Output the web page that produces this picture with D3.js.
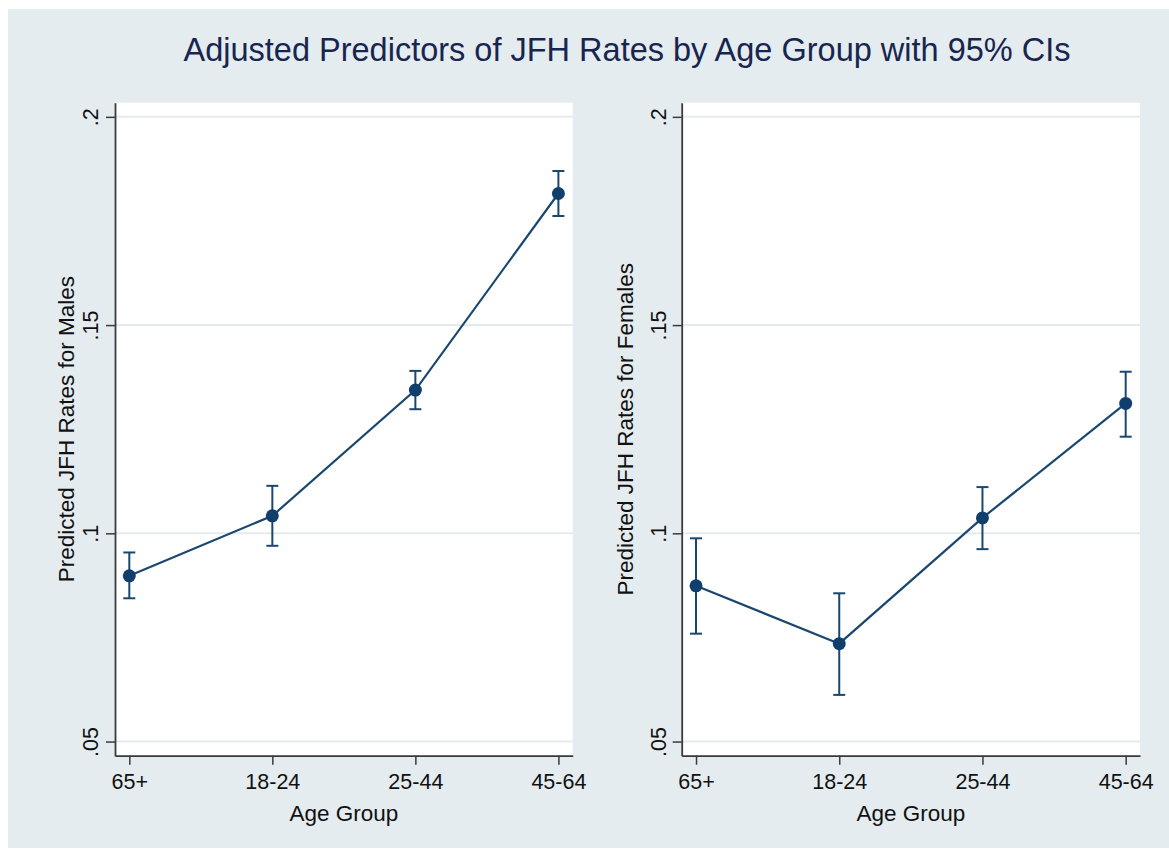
<!DOCTYPE html>
<html>
<head>
<meta charset="utf-8">
<script src="https://cdn.jsdelivr.net/npm/d3@7"></script>
<style>
    body { margin: 0; background: #ffffff; overflow: hidden; }
    svg { display: block; }
    text { font-family: "Liberation Sans", Arial, sans-serif; }
</style>
</head>
<body>
<div id="chart"></div>
<script>
// Age groups and predicted JFH rates (with 95% CI bounds)
var categories = ["65+", "18-24", "25-44", "45-64"];

var maleRate = [0.0898, 0.1042, 0.1344, 0.1816];
var maleLow = [0.0844, 0.0970, 0.1298, 0.1762];
var maleHigh = [0.0954, 0.1114, 0.1390, 0.1870];

var femaleRate = [0.0874, 0.0735, 0.1037, 0.1312];
var femaleLow = [0.0759, 0.0612, 0.0962, 0.1232];
var femaleHigh = [0.0988, 0.0856, 0.1111, 0.1388];

var yTicks = [0.05, 0.1, 0.15, 0.2];
var yTickLabels = [".05", ".1", ".15", ".2"];

var svgWidth = 1169;
var svgHeight = 851;
var plotTop = 102.7;
var plotBottom = 755.7;

var lineColor = "#1a476f";
var markerColor = "#113f6c";
var axisColor = "#3a3a3a";
var gridColor = "#e3ebef";

var svg = d3.select("#chart")
    .append("svg")
    .attr("width", svgWidth)
    .attr("height", svgHeight);

// graph region background
svg.append("rect")
    .attr("x", 8)
    .attr("y", 9)
    .attr("width", svgWidth - 8)
    .attr("height", svgHeight - 12)
    .attr("fill", "#e4ecef");

svg.append("text")
    .attr("x", 627)
    .attr("y", 61)
    .attr("text-anchor", "middle")
    .attr("font-size", "32.5px")
    .attr("fill", "#18264f")
    .text("Adjusted Predictors of JFH Rates by Age Group with 95% CIs");

function drawPanel(left, right, rate, low, high, yTitle, yTitleX, tickGap) {
    var x = d3.scaleLinear().domain([0.9, 4.1]).range([left, right]);
    var y = d3.scaleLinear().domain([0.0466, 0.2034]).range([plotBottom, plotTop]);

    var g = svg.append("g");

    // plot region
    g.append("rect")
        .attr("x", left)
        .attr("y", plotTop)
        .attr("width", right - left)
        .attr("height", plotBottom - plotTop)
        .attr("fill", "#ffffff");

    // gridlines
    g.selectAll(".grid")
        .data(yTicks)
        .enter()
        .append("line")
        .attr("x1", left)
        .attr("x2", right)
        .attr("y1", function (d) { return y(d); })
        .attr("y2", function (d) { return y(d); })
        .attr("stroke", gridColor)
        .attr("stroke-width", 2);

    // y axis
    var yAxis = g.append("g")
        .attr("transform", "translate(" + left + ",0)")
        .call(d3.axisLeft(y)
            .tickValues(yTicks)
            .tickFormat(function (d, i) { return yTickLabels[i]; })
            .tickSize(9)
            .tickSizeOuter(0));

    yAxis.selectAll("text")
        .attr("transform", "rotate(-90)")
        .attr("x", 0)
        .attr("y", -tickGap)
        .attr("dy", 0)
        .attr("text-anchor", "middle")
        .attr("font-size", "21.5px")
        .attr("fill", "#111");

    // x axis
    var xAxis = g.append("g")
        .attr("transform", "translate(0," + plotBottom + ")")
        .call(d3.axisBottom(x)
            .tickValues([1, 2, 3, 4])
            .tickFormat(function (d) { return categories[d - 1]; })
            .tickSize(9)
            .tickSizeOuter(0));

    xAxis.selectAll("text")
        .attr("y", 33.5)
        .attr("dy", 0)
        .attr("font-size", "21.5px")
        .attr("fill", "#111");

    [yAxis, xAxis].forEach(function (a) {
        a.select(".domain").attr("stroke", axisColor).attr("stroke-width", 1.8);
        a.selectAll(".tick line").attr("stroke", axisColor).attr("stroke-width", 1.5);
    });

    // axis titles
    g.append("text")
        .attr("x", (left + right) / 2)
        .attr("y", 821)
        .attr("text-anchor", "middle")
        .attr("font-size", "22.5px")
        .attr("fill", "#111")
        .text("Age Group");

    g.append("text")
        .attr("transform", "translate(" + yTitleX + "," + ((plotTop + plotBottom) / 2) + ") rotate(-90)")
        .attr("text-anchor", "middle")
        .attr("font-size", "22.5px")
        .attr("fill", "#111")
        .text(yTitle);

    // confidence intervals
    var idx = d3.range(rate.length);
    g.selectAll(".ci")
        .data(idx)
        .enter()
        .append("line")
        .attr("x1", function (i) { return x(i + 1); })
        .attr("x2", function (i) { return x(i + 1); })
        .attr("y1", function (i) { return y(low[i]); })
        .attr("y2", function (i) { return y(high[i]); })
        .attr("stroke", lineColor)
        .attr("stroke-width", 2);

    var caps = [low, high];
    caps.forEach(function (c) {
        g.selectAll(".cap")
            .data(idx)
            .enter()
            .append("line")
            .attr("x1", function (i) { return x(i + 1) - 6; })
            .attr("x2", function (i) { return x(i + 1) + 6; })
            .attr("y1", function (i) { return y(c[i]); })
            .attr("y2", function (i) { return y(c[i]); })
            .attr("stroke", lineColor)
            .attr("stroke-width", 2);
    });

    // connecting line
    var line = d3.line()
        .x(function (d, i) { return x(i + 1); })
        .y(function (d) { return y(d); });

    g.append("path")
        .datum(rate)
        .attr("d", line)
        .attr("fill", "none")
        .attr("stroke", lineColor)
        .attr("stroke-width", 2.2);

    g.selectAll(".pt")
        .data(rate)
        .enter()
        .append("circle")
        .attr("cx", function (d, i) { return x(i + 1); })
        .attr("cy", function (d) { return y(d); })
        .attr("r", 6.5)
        .attr("fill", markerColor);
}

drawPanel(115, 572.7, maleRate, maleLow, maleHigh, "Predicted JFH Rates for Males", 74, 17);
drawPanel(681.7, 1140, femaleRate, femaleLow, femaleHigh, "Predicted JFH Rates for Females", 633, 16);
</script>
</body>
</html>
